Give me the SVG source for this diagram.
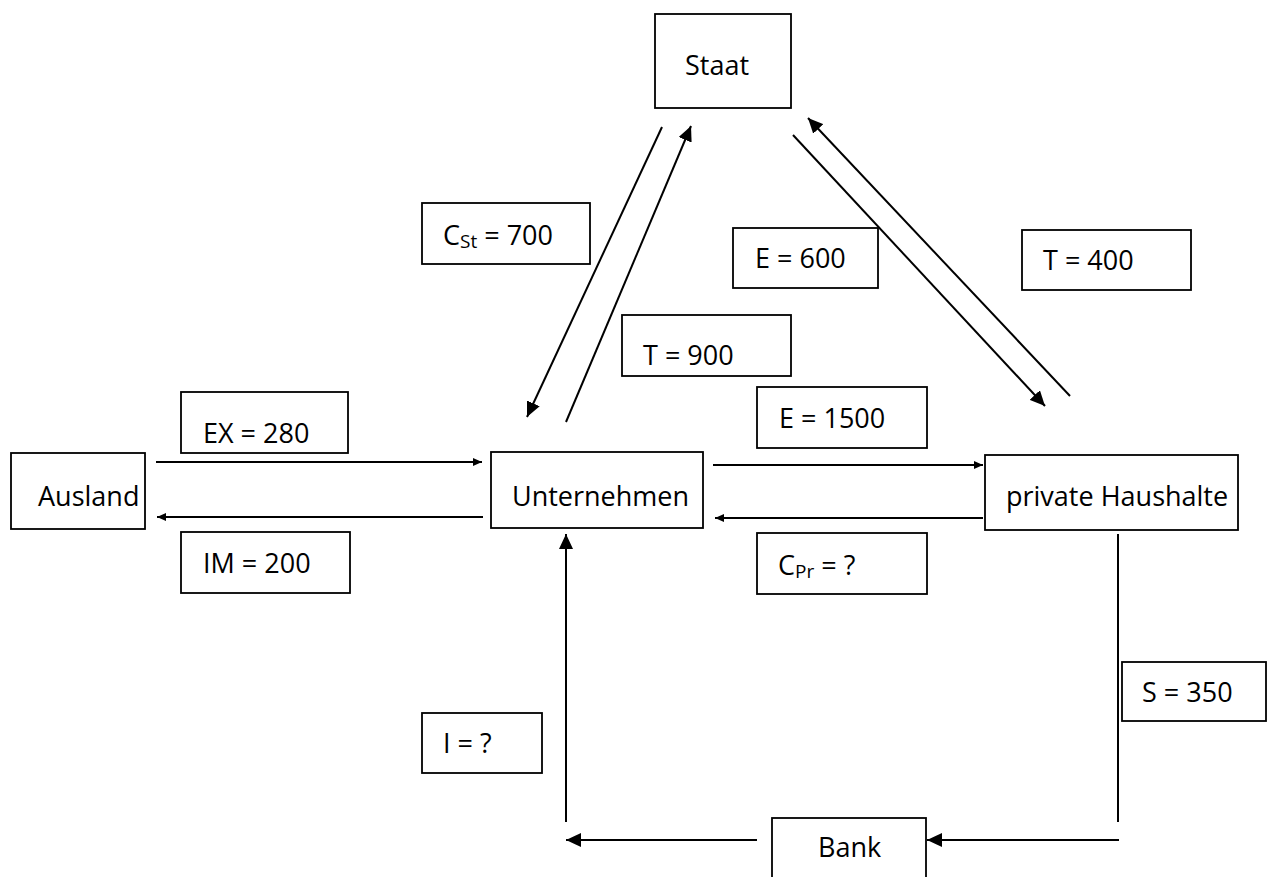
<svg xmlns="http://www.w3.org/2000/svg" width="1269" height="877" viewBox="0 0 1269 877">
<defs>
<style>
.box{fill:#fff;stroke:#000;stroke-width:1.8}
.t{font-family:"Open Sans","Noto Sans","Liberation Sans",sans-serif;font-size:27px;fill:#000}
.sub{font-size:19px}
.ln{stroke:#000;stroke-width:2;fill:none}
.big{marker-end:url(#big)}
.sm{marker-end:url(#sm)}
</style>
<marker id="big" markerUnits="userSpaceOnUse" markerWidth="16" markerHeight="14" refX="15" refY="7" orient="auto"><path d="M0,0 L15,7 L0,14 z" fill="#000"/></marker>
<marker id="sm" markerUnits="userSpaceOnUse" markerWidth="10" markerHeight="10" refX="9" refY="4" orient="auto"><path d="M0,0 L9,4 L0,8 z" fill="#000"/></marker>
</defs>
<rect width="1269" height="877" fill="#fff"/>
<g id="connectors">
<line class="ln big" x1="662" y1="127" x2="527" y2="417"/>
<line class="ln big" x1="566" y1="422" x2="691" y2="126"/>
<line class="ln big" x1="793" y1="135" x2="1045" y2="406"/>
<line class="ln big" x1="1070" y1="396" x2="808" y2="118"/>
<line class="ln sm" x1="156" y1="462" x2="482" y2="462"/>
<line class="ln sm" x1="483" y1="517" x2="157" y2="517"/>
<line class="ln sm" x1="713" y1="465" x2="983" y2="465"/>
<line class="ln sm" x1="983" y1="518" x2="715" y2="518"/>
<line class="ln" x1="1118" y1="534" x2="1118" y2="822"/>
<line class="ln big" x1="1119" y1="840" x2="927" y2="840"/>
<line class="ln big" x1="757" y1="840" x2="566" y2="840"/>
<line class="ln big" x1="566" y1="822" x2="566" y2="534"/>
</g>
<g id="staat"><rect class="box" x="655" y="14" width="136" height="94"/><text class="t" x="685" y="75">Staat</text></g>
<g id="unternehmen"><rect class="box" x="491" y="452" width="212" height="76"/><text class="t" x="512" y="506">Unternehmen</text></g>
<g id="ausland"><rect class="box" x="11" y="453" width="134" height="76"/><text class="t" x="38" y="506">Ausland</text></g>
<g id="haushalte"><rect class="box" x="985" y="455" width="253" height="75"/><text class="t" x="1006" y="506">private Haushalte</text></g>
<g id="bank"><rect class="box" x="772" y="818" width="154" height="70"/><text class="t" x="818" y="857">Bank</text></g>
<g id="label-cst"><rect class="box" x="422" y="203" width="168" height="61"/><text class="t" x="443" y="245">C<tspan class="sub" dy="3">St</tspan><tspan dy="-3"> = 700</tspan></text></g>
<g id="label-t900"><rect class="box" x="622" y="315" width="169" height="61"/><text class="t" x="643" y="365">T = 900</text></g>
<g id="label-e600"><rect class="box" x="733" y="228" width="145" height="60"/><text class="t" x="755" y="268">E = 600</text></g>
<g id="label-t400"><rect class="box" x="1022" y="230" width="169" height="60"/><text class="t" x="1043" y="270">T = 400</text></g>
<g id="label-ex"><rect class="box" x="181" y="392" width="167" height="61"/><text class="t" x="203" y="443">EX = 280</text></g>
<g id="label-im"><rect class="box" x="181" y="532" width="169" height="61"/><text class="t" x="203" y="573">IM = 200</text></g>
<g id="label-e1500"><rect class="box" x="757" y="387" width="170" height="61"/><text class="t" x="779" y="428">E = 1500</text></g>
<g id="label-cpr"><rect class="box" x="757" y="533" width="170" height="61"/><text class="t" x="778" y="575">C<tspan class="sub" dy="3">Pr</tspan><tspan dy="-3"> = ?</tspan></text></g>
<g id="label-s"><rect class="box" x="1122" y="662" width="144" height="59"/><text class="t" x="1142" y="702">S = 350</text></g>
<g id="label-i"><rect class="box" x="422" y="713" width="120" height="60"/><text class="t" x="443" y="753">I = ?</text></g>
</svg>
